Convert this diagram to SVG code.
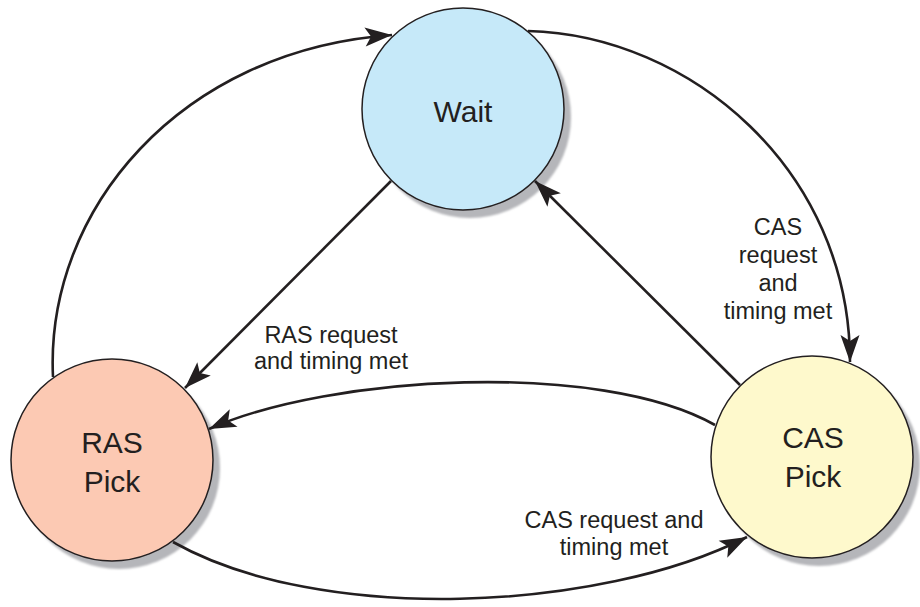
<svg xmlns="http://www.w3.org/2000/svg" width="920" height="607" viewBox="0 0 920 607">
<style>
.shadow{fill:#b5b6ba}
.node{stroke:#231f20;stroke-width:1.5}
.ntext{font-family:"Liberation Sans",Arial,Helvetica,sans-serif;font-size:30px;fill:#231f20;text-anchor:middle}
.etext{font-family:"Liberation Sans",Arial,Helvetica,sans-serif;font-size:23.5px;fill:#231f20;text-anchor:middle}
.conn{fill:none;stroke:#231f20;stroke-width:2.6;marker-end:url(#arrow)}
</style>
<defs>
<marker id="arrow" markerUnits="userSpaceOnUse" markerWidth="32" markerHeight="22" viewBox="-29 -11 31 22" refX="0" refY="0" orient="auto">
<path d="M0,0 L-27,-9.5 L-21,0 L-27,9.5 Z" fill="#231f20"/>
</marker>
<filter id="blur" x="-10%" y="-10%" width="120%" height="120%"><feGaussianBlur stdDeviation="0.8"/></filter>
</defs>
<rect width="920" height="607" fill="#ffffff"/>
<g id="wait">
<circle class="shadow" cx="470" cy="117" r="101" filter="url(#blur)"/>
<circle class="node" cx="463" cy="109" r="101" fill="#c6e9f9"/>
<text class="ntext" x="463" y="122">Wait</text>
</g>
<g id="ras-pick">
<circle class="shadow" cx="119" cy="468" r="101" filter="url(#blur)"/>
<circle class="node" cx="112" cy="460" r="101" fill="#fcc9b3"/>
<text class="ntext" x="112" y="453">RAS</text>
<text class="ntext" x="112" y="492">Pick</text>
</g>
<g id="cas-pick">
<circle class="shadow" cx="819" cy="465" r="101" filter="url(#blur)"/>
<circle class="node" cx="812" cy="457" r="101" fill="#fef9cc"/>
<text class="ntext" x="813" y="448">CAS</text>
<text class="ntext" x="813" y="487">Pick</text>
</g>
<g id="connectors">
<path class="conn" d="M53,377 C45,210 180,50 392,35"/>
<path class="conn" d="M528,31 C690,35 850,170 850,362"/>
<path class="conn" d="M391,181 L185,388"/>
<path class="conn" d="M740,385 L535,181"/>
<path class="conn" d="M715,425 C600,360 330,375 209,429"/>
<path class="conn" d="M173,542 C320,625 600,612 747,537"/>
</g>
<g id="labels">
<text class="etext" x="331" y="343">RAS request</text>
<text class="etext" x="331" y="369">and timing met</text>
<text class="etext" x="778" y="235">CAS</text>
<text class="etext" x="778" y="263">request</text>
<text class="etext" x="778" y="291">and</text>
<text class="etext" x="778" y="319">timing met</text>
<text class="etext" x="614" y="528">CAS request and</text>
<text class="etext" x="614" y="555">timing met</text>
</g>
</svg>
